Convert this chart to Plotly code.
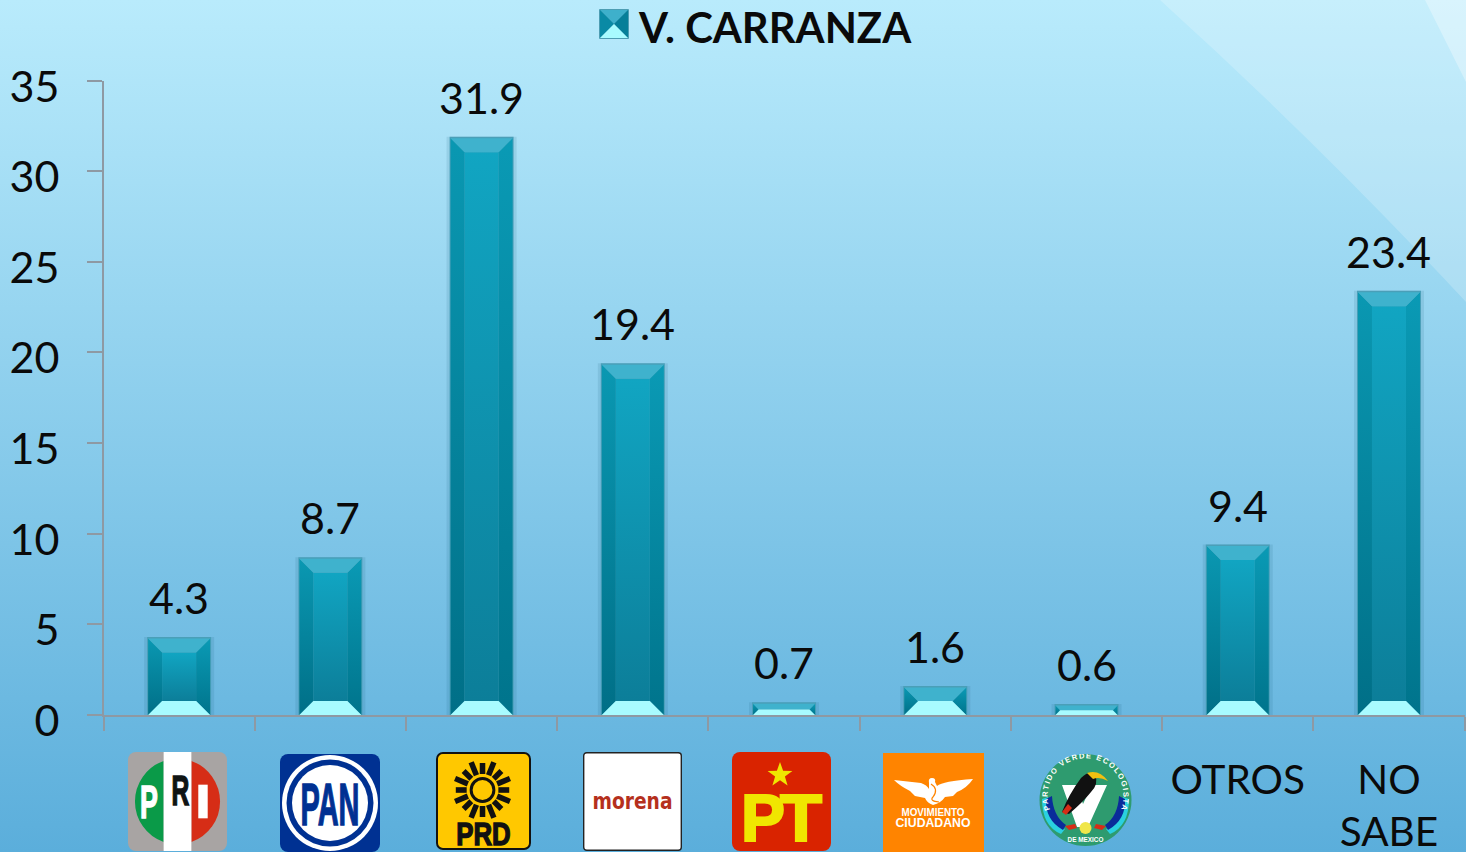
import base64, math
import plotly.graph_objects as go

# ---------- data ----------
categories = ["PRI", "PAN", "PRD", "MORENA", "PT", "MC", "PVEM", "OTROS", "NO SABE"]
values = [4.3, 8.7, 31.9, 19.4, 0.7, 1.6, 0.6, 9.4, 23.4]
axis_labels = ["", "", "", "", "", "", "", "OTROS", "NO<br>SABE"]
y_ticks = [0, 5, 10, 15, 20, 25, 30, 35]
series_name = "V. CARRANZA"

# ---------- layout constants ----------
W, H = 1466, 852
X0, X1 = 103.5, 1464.6
Y0, Y35 = 715, 80.5
PXU_X = (X1 - X0) / 9
PXU_Y = (Y0 - Y35) / 35
BAR_W = 64 / PXU_X
FONT = "Lato"
TXT = 40.5
NUM = 43


def uri(svg):
    return "data:image/svg+xml;base64," + base64.b64encode(svg.encode()).decode()


def svg(w, h, body, defs=""):
    return (f'<svg xmlns="http://www.w3.org/2000/svg" xmlns:xlink="http://www.w3.org/1999/xlink" '
            f'width="{w}" height="{h}" viewBox="0 0 {w} {h}" preserveAspectRatio="none">'
            f'<defs>{defs}</defs>{body}</svg>')


def t(x, y, s, size, fill, length=None, family="Liberation Sans", weight="bold", stroke=0):
    tl = f' textLength="{length}" lengthAdjust="spacingAndGlyphs"' if length else ""
    st = f' stroke="{fill}" stroke-width="{stroke}"' if stroke else ""
    return (f'<text x="{x}" y="{y}" text-anchor="middle" font-family="{family}" font-weight="{weight}" '
            f'font-size="{size}" fill="{fill}"{tl}{st}>{s}</text>')


bg = svg(W, H,
         f'<rect width="{W}" height="{H}" fill="url(#g)"/>'
         f'<path d="M1160 0 Q1320 145 1466 302 L1466 0 Z" fill="#fff" opacity="0.2"/>'
         f'<path d="M1425 0 L1466 82 L1466 0 Z" fill="#fff" opacity="0.32"/>',
         '<linearGradient id="g" x1="0" y1="0" x2="0" y2="1">'
         '<stop offset="0" stop-color="#b9ebfc"/><stop offset="1" stop-color="#5baedb"/></linearGradient>')

swatch = svg(30, 30,
             '<rect width="30" height="30" rx="1" fill="#4d9db3"/>'
             '<polygon points="1,1 29,1 15,15" fill="#3eb0cb"/>'
             '<polygon points="1,1 15,15 1,29" fill="#0a8aa5"/>'
             '<polygon points="29,1 15,15 29,29" fill="#067f99"/>'
             '<polygon points="1,29 15,15 29,29" fill="#a8fbff"/>')

pri = svg(100, 100,
          '<rect width="100" height="100" rx="8" fill="#a8a4a3"/>'
          '<path d="M64 9 A43.5 43.5 0 0 1 64 91 Z" fill="#d62d16"/>'
          '<path d="M36 9 A43.5 43.5 0 0 0 36 91 Z" fill="#0a9a48"/>'
          '<rect x="36" y="0" width="28" height="100" fill="#fff"/>'
          + t(21, 67, "P", 47, "#fff", 18, stroke=1.6)
          + t(53, 54, "R", 43, "#101414", 18, stroke=1.6)
          + '<rect x="71" y="33" width="9.5" height="34" fill="#fff"/>')

pan = svg(100, 98,
          '<rect width="100" height="98" rx="8" fill="#003192"/>'
          '<circle cx="50" cy="49" r="48" fill="#fff"/>'
          '<circle cx="50" cy="49" r="43.5" fill="#003192"/>'
          '<circle cx="50" cy="49" r="38" fill="#fff"/>'
          + t(50, 71, "PAN", 60, "#003192", 59, stroke=1.4))

rays = ""
for i in range(16):
    a = i * 22.5
    r1, r2 = (16, 30) if i % 2 else (16, 27)
    rays += (f'<rect x="44.2" y="{38 - r2}" width="5.6" height="{r2 - r1}" fill="#111" '
             f'transform="rotate({a} 47 38)"/>')
prd = svg(96, 98,
          '<rect x="1" y="1" width="94" height="96" rx="6" fill="#ffc800" stroke="#111" stroke-width="2"/>'
          + rays +
          '<circle cx="47" cy="38" r="11.5" fill="none" stroke="#111" stroke-width="3"/>'
          + t(48, 93, "PRD", 32, "#111", 55, stroke=1.4))

morena = svg(99, 99,
             '<rect x="0.7" y="0.7" width="97.6" height="97.6" rx="3" fill="#fff" stroke="#222" stroke-width="1.4"/>'
             + t(49.5, 57, "morena", 23, "#b5301d", 80, "DejaVu Sans"))

star = " ".join(
    f"{48 + (13 if k % 2 == 0 else 5.2) * math.sin(k * math.pi / 5):.1f},"
    f"{23 - (13 if k % 2 == 0 else 5.2) * math.cos(k * math.pi / 5):.1f}" for k in range(10))
pt = svg(99, 99,
         '<rect width="99" height="99" rx="8" fill="#d92300"/>'
         f'<polygon points="{star}" fill="#f0e600"/>'
         + t(31, 89, "P", 67, "#f0e600", 44, stroke=2.2)
         + t(69, 89, "T", 67, "#f0e600", 42, stroke=2.2))

mc = svg(101, 99,
         '<rect width="101" height="99" fill="#ff8400"/>'
         '<path d="M11 27 L38 30 Q44 32 46 36 L46 30 Q45 25 49 25 Q53 25 52 29 L54 33 Q60 28 90 26 '
         'Q84 35 74 39 L70 43 L62 44 Q58 50 50 52 Q44 50 42 45 L32 43 L27 38 Q17 33 11 27 Z" fill="#fff"/>'
         '<path d="M48 31 Q56 36 50 44 Q46 48 56 49" fill="none" stroke="#ff8400" stroke-width="1.2"/>'
         + t(50, 62.5, "MOVIMIENTO", 10, "#fff", 63)
         + t(50, 73.5, "CIUDADANO", 12.5, "#fff", 75))

pvem = svg(93, 92,
           '<path id="arc" d="M11.5 57 A38 38 0 1 1 81.5 57" fill="none"/>'
           '<circle cx="46.5" cy="46" r="46" fill="#2e9b6f"/>'
           '<path d="M3 45 Q3 72 22 80 L26 75 Q11 68 9 43 Z" fill="#2ad0e0"/>'
           '<path d="M90 45 Q90 72 71 80 L67 75 Q82 68 84 43 Z" fill="#2ad0e0"/>'
           '<path d="M7 45 Q6 66 24 76 L27 71 Q14 62 13 42 Z" fill="#0a2c9a"/>'
           '<path d="M86 45 Q87 66 69 76 L66 71 Q79 62 80 42 Z" fill="#0a2c9a"/>'
           '<polygon points="23,31 38,31 44,50 53,31 68,31 49,73 38,73" fill="#fff"/>'
           '<path d="M23 58 Q30 40 42 24 Q50 16 56 20 Q60 30 52 38 Q44 48 30 60 Z" fill="#111"/>'
           '<path d="M48 19 Q60 15 69 27 Q60 22 54 25 Z" fill="#f0c010"/>'
           '<path d="M23 58 L29 50 L33 54 L27 61 Z" fill="#d62d16"/>'
           '<path d="M26 72 L36 70 L38 74 L30 76 Z" fill="#d62d16"/>'
           '<path d="M67 72 L57 70 L55 74 L63 76 Z" fill="#d62d16"/>'
           '<circle cx="46.5" cy="74" r="6" fill="#f0e64a"/>'
           '<text font-family="Liberation Sans" font-size="7.6" fill="#fff" font-weight="bold">'
           '<textPath xlink:href="#arc" startOffset="1%" textLength="146" lengthAdjust="spacing">'
           'PARTIDO VERDE ECOLOGISTA</textPath></text>'
           + t(46.5, 88, "DE MEXICO", 7, "#fff", 36))

logos = [  # svg, left, top, width, height (px)
    (pri, 128, 752, 99, 99), (pan, 280, 754, 100, 98), (prd, 436, 752, 95, 98),
    (morena, 583, 752, 99, 99), (pt, 732, 752, 99, 99), (mc, 883, 753, 101, 99),
    (pvem, 1039, 754, 93, 92),
]

images = [dict(source=uri(bg), xref="paper", yref="paper", x=0, y=1, sizex=1, sizey=1,
               xanchor="left", yanchor="top", sizing="stretch", layer="below")]


def add_px_image(s, l, tp, w, h):
    images.append(dict(source=uri(s), xref="paper", yref="paper",
                       x=l / W, y=1 - tp / H, sizex=w / W, sizey=h / H,
                       xanchor="left", yanchor="top", sizing="stretch", layer="above"))


for item in logos:
    add_px_image(*item)
add_px_image(swatch, 599, 9, 30, 30)

# ---------- figure ----------
fig = go.Figure()
xs = list(range(len(categories)))

fig.add_bar(x=xs, y=values, width=70 / PXU_X, marker=dict(color="rgba(0,70,100,0.10)", line_width=0),
            hoverinfo="skip", showlegend=False)
fig.add_bar(x=xs, y=values, width=BAR_W, marker=dict(color="#4a9fb8", line_width=0),
            name=series_name, text=categories, textposition="none", showlegend=False)


def poly(px, py, grad=None, color=None):
    kw = dict(x=px, y=py, mode="lines", fill="toself", line=dict(width=0, color="rgba(0,0,0,0)"),
              hoverinfo="skip", showlegend=False)
    if grad:
        kw["fillgradient"] = dict(type="vertical", colorscale=[[0, grad[1]], [1, grad[0]]])
    else:
        kw["fillcolor"] = color
    fig.add_trace(go.Scatter(**kw))


for i, v in zip(xs, values):
    h_px = v * PXU_Y
    b = min(14.0, h_px / 2)
    bx, by = b / PXU_X, b / PXU_Y
    m = 1 / PXU_X
    xa, xb = i - BAR_W / 2 + m, i + BAR_W / 2 - m
    yt, yb = v - 1.5 / PXU_Y, 0
    if h_px < 20:
        by = (h_px - 1.5) / 2 / PXU_Y
        bx = by * PXU_Y / PXU_X
    poly([xa, xa + bx, xa + bx, xa, xa], [yt, yt - by, yb + by, yb, yt], grad=("#0a98b2", "#006f87"))
    poly([xb, xb - bx, xb - bx, xb, xb], [yt, yt - by, yb + by, yb, yt], grad=("#0a9ab5", "#00748c"))
    if yt - by > yb + by:
        poly([xa + bx, xb - bx, xb - bx, xa + bx, xa + bx],
             [yt - by, yt - by, yb + by, yb + by, yt - by], grad=("#11a5c2", "#0c7e99"))
    poly([xa, xb, xb - bx, xa + bx, xa], [yt, yt, yt - by, yt - by, yt], color="#3fb2cd")
    poly([xa, xb, xb - bx, xa + bx, xa], [yb, yb, yb + by, yb + by, yb], color="#a8fbff")

# carrier for the tick-label axis
fig.add_trace(go.Scatter(x=[None], y=[None], yaxis="y2", hoverinfo="skip", showlegend=False))

annotations = [dict(x=i, y=v, text=f"{v:.1f}", showarrow=False, yanchor="bottom", yshift=12,
                    font=dict(family=FONT, size=NUM, color="#0a0a0a")) for i, v in zip(xs, values)]
annotations.append(dict(xref="paper", yref="paper", x=775 / W, y=1 - 27 / H, xanchor="center", yanchor="middle",
                        text=f"<b>{series_name}</b>", showarrow=False,
                        font=dict(family=FONT, size=41.8, color="#0a0a0a")))

GRID = "#8e99a3"
LBL = 6
fig.update_layout(
    width=W, height=H, autosize=False, margin=dict(l=0, r=0, t=0, b=0, pad=0, autoexpand=False), barmode="overlay",
    paper_bgcolor="#8fd0ee", plot_bgcolor="rgba(0,0,0,0)", showlegend=False,
    images=images, annotations=annotations,
    xaxis=dict(domain=[X0 / W, X1 / W], range=[-0.5, 8.5], tickmode="array", tickvals=xs, ticktext=axis_labels,
               ticks="", showgrid=False, zeroline=False, showline=True, linecolor=GRID, linewidth=2,
               anchor="y", ticklabelstandoff=28, tickfont=dict(family=FONT, size=TXT, color="#0a0a0a"),
               tickangle=0, automargin=False,
               minor=dict(tickmode="array", tickvals=[k - 0.5 for k in range(10)], ticks="outside",
                          ticklen=14, tickwidth=2, tickcolor=GRID, showgrid=False)),
    yaxis=dict(domain=[(H - Y0) / H, (H - Y35) / H], range=[0, 35], tickvals=y_ticks, showticklabels=False,
               ticks="outside", ticklen=15, tickwidth=2, tickcolor=GRID, showgrid=False, zeroline=False,
               showline=True, linecolor=GRID, linewidth=2, automargin=False),
    yaxis2=dict(domain=[(H - Y0 - 20) / H, (H - Y35) / H], range=[-(20 - LBL) / PXU_Y, 35 + LBL / PXU_Y],
                side="left", anchor="x", tickvals=y_ticks, ticks="", showgrid=False, zeroline=False,
                showline=False, ticklabelstandoff=43, automargin=False,
                tickfont=dict(family=FONT, size=NUM, color="#0a0a0a")),
)

fig.write_html("out.html", config=dict(displayModeBar=False),
               post_script="document.body.style.margin='0';document.body.style.overflow='hidden';")
